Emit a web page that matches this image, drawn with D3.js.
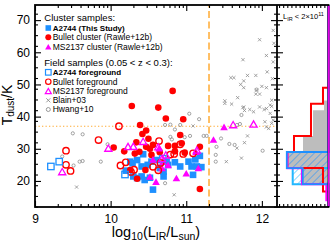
<!DOCTYPE html>
<html>
<head>
<meta charset="utf-8">
<script src="https://cdn.jsdelivr.net/npm/d3@7"></script>
<style>
  html, body { margin: 0; padding: 0; background: #fff; }
  svg { display: block; font-family: "Liberation Sans", Arial, Helvetica, sans-serif; }
</style>
</head>
<body>
<svg id="chart" width="330" height="242"></svg>
<script>
// [log10(L_IR/L_sun), T_dust/K]
const bulletCluster = [
  [10.82, 48.0], [10.28, 43.3], [10.63, 42.8], [10.73, 39.4], [10.96, 39.2], [10.39, 37.4],
  [10.47, 35.7], [10.42, 34.6], [10.50, 33.1], [10.92, 34.3], [10.04, 30.4], [10.18, 29.2],
  [10.34, 32.0], [10.47, 30.6], [10.38, 29.1], [10.56, 31.2], [10.52, 30.0], [10.65, 28.9],
  [10.85, 29.2], [10.94, 31.7], [10.76, 30.9], [11.18, 30.6], [10.32, 28.5], [10.54, 28.1],
  [10.98, 28.8], [10.26, 23.4], [10.46, 23.4], [10.35, 20.7], [11.18, 17.5], [10.85, 30.9]
];
const bulletForeground = [
  [10.11, 37.0], [9.84, 32.7], [9.41, 29.4], [9.41, 25.0], [9.47, 23.1], [10.13, 24.8],
  [10.20, 25.8], [10.31, 23.5], [10.64, 32.4], [10.92, 31.4], [10.84, 28.4], [11.09, 28.6],
  [10.56, 24.4], [10.66, 25.6], [10.79, 28.2], [10.63, 23.3], [10.96, 28.4], [10.27, 22.8]
];
const a2744Cluster = [
  [10.20, 23.2], [10.29, 25.5], [10.35, 20.9], [10.41, 21.4], [10.45, 20.3], [10.56, 17.3],
  [10.70, 21.4], [10.43, 28.3], [10.54, 26.0], [10.65, 24.0], [10.74, 26.0], [10.26, 26.0],
  [10.35, 26.5], [10.49, 25.0], [10.41, 24.5], [10.61, 26.5], [10.70, 22.9], [10.76, 25.0],
  [11.03, 26.0], [11.07, 24.5], [11.12, 26.7], [10.30, 21.4], [11.18, 27.8], [11.14, 24.5],
  [11.20, 24.3], [11.09, 21.9], [10.92, 24.5], [10.52, 21.0], [10.85, 25.8]
];
const a2744Foreground = [[9.21, 24.5], [9.32, 26.0], [10.19, 22.0], [10.69, 26.9]];
const ms2137Cluster = [
  [11.50, 36.8], [11.36, 32.9], [11.13, 29.1], [10.87, 20.9], [11.00, 22.4], [10.64, 30.2],
  [10.56, 26.7], [10.69, 26.0], [10.52, 21.4], [10.60, 19.8], [10.68, 24.0], [10.76, 25.0],
  [11.16, 24.0]
];
const ms2137Foreground = [
  [9.97, 30.2], [9.36, 22.9], [10.23, 30.7], [10.30, 30.8], [10.43, 32.3], [10.63, 30.6],
  [10.73, 28.1], [11.14, 29.6], [11.62, 37.5], [11.89, 37.7], [10.68, 27.0]
];
const blain03 = [
  [9.55, 18.1], [10.84, 15.7], [11.09, 37.1], [11.51, 44.1], [11.60, 43.9], [11.76, 43.0],
  [11.77, 41.9], [11.89, 41.5], [11.97, 43.0], [12.06, 42.5], [12.13, 43.2], [12.04, 38.4],
  [12.09, 36.3], [12.13, 37.9], [11.81, 34.0], [11.77, 31.9], [11.67, 30.2], [11.53, 26.0],
  [11.73, 27.1], [12.15, 66.8], [11.97, 63.9], [12.16, 62.8], [12.06, 59.0], [11.75, 57.7],
  [12.07, 53.9], [11.59, 52.1], [11.63, 52.1], [11.81, 52.8], [11.92, 52.8], [11.76, 51.1],
  [11.72, 50.0], [11.76, 49.0], [12.00, 49.4], [12.06, 49.0], [11.93, 48.2], [11.92, 47.0],
  [11.97, 47.0], [11.68, 45.9], [11.51, 44.9], [11.75, 42.8], [11.84, 42.2], [12.03, 42.2],
  [12.11, 43.6], [12.15, 57.0], [12.13, 45.1], [12.11, 41.0], [12.15, 38.9], [12.14, 51.8],
  [12.06, 36.8]
];
const hwang10 = [
  [9.50, 34.8], [9.63, 34.5], [9.59, 26.0], [9.63, 26.2], [9.87, 26.0], [9.51, 24.8],
  [9.36, 27.6], [9.96, 31.4], [11.04, 40.9], [10.79, 37.5], [10.92, 37.4], [11.05, 34.0],
  [10.72, 19.3], [11.73, 40.5], [11.17, 39.2], [11.71, 37.7], [11.67, 37.4], [11.46, 33.2],
  [11.40, 30.6], [11.39, 28.1], [11.39, 26.0], [11.57, 31.5], [11.64, 31.2], [12.01, 29.4],
  [11.23, 34.0], [11.27, 34.0], [11.93, 48.4], [10.98, 33.6], [10.79, 33.7], [10.85, 36.0],
  [10.72, 37.4], [10.81, 32.9]
];

// histograms of T_dust for L_IR < 2e11 (bin edges in K, bar length as fraction)
const fieldHistEdges = [29, 34, 42, 45];
const fieldHistFrac = [0.495, 0.30, 0.087];
const bulletHistEdges = [16.7, 19, 24, 29, 34, 44, 49];
const bulletHistFrac = [0.107, 0.107, 0.80, 0.67, 0.34, 0.107];
const a2744HistEdges = [19, 24, 29];
const a2744HistFrac = [0.50, 0.81];
const a2744FgHistEdges = [19, 24];
const a2744FgHistFrac = [0.695];
const ms2137HistEdges = [14, 19, 24, 29];
const ms2137HistFrac = [0.04, 0.515, 0.80];

const xTicks = [9, 10, 11, 12];
const yTicks = [20, 30, 40, 50, 60, 70];
const lirCut = Math.log10(2e11);
const tempCut = 37;

const BLUE = "#1e90ff";
const LIGHTBLUE = "#22b8ff";
const RED = "#ff0000";
const MAGENTA = "#ff00ff";
const GRAY = "#8c8c8c";
const ORANGE = "#ffaa33";

const svg = d3.select("#chart");
const x = d3.scaleLinear().domain([9, 12.2]).range([35, 277]);
const y = d3.scaleLinear().domain([11.9, 74.7]).range([207, 5]);
const hx = d3.scaleLinear().domain([0, 1]).range([328.5, 277]);
const [yMin, yMax] = y.domain();

const defs = svg.append("defs");
defs.append("clipPath").attr("id", "clip-main").append("rect")
  .attr("x", x.range()[0]).attr("y", y.range()[1])
  .attr("width", x.range()[1] - x.range()[0]).attr("height", y.range()[0] - y.range()[1]);
defs.append("clipPath").attr("id", "clip-hist").append("rect")
  .attr("x", hx.range()[1]).attr("y", y.range()[1])
  .attr("width", hx.range()[0] - hx.range()[1] + 2).attr("height", y.range()[0] - y.range()[1]);

function hatch(id, color) {
  const p = defs.append("pattern").attr("id", id)
    .attr("patternUnits", "userSpaceOnUse").attr("width", 5).attr("height", 5)
    .attr("patternTransform", "rotate(45)");
  p.append("line").attr("x1", 0).attr("y1", 0).attr("x2", 0).attr("y2", 5)
    .attr("stroke", color).attr("stroke-width", 1.1);
}
hatch("hatch-blue", BLUE);
hatch("hatch-light", LIGHTBLUE);

// ---- main panel ----
const main = svg.append("g").attr("clip-path", "url(#clip-main)");

main.append("line")
  .attr("x1", x(lirCut)).attr("x2", x(lirCut)).attr("y1", y(yMin)).attr("y2", y(yMax))
  .attr("stroke", ORANGE).attr("stroke-width", 1.5).attr("stroke-dasharray", "7,3.5");
main.append("line")
  .attr("x1", x(9)).attr("x2", x(12.2)).attr("y1", y(tempCut)).attr("y2", y(tempCut))
  .attr("stroke", ORANGE).attr("stroke-width", 1.2).attr("stroke-dasharray", "1.3,2.2");

const crossPath = (r) => `M${-r},${-r}L${r},${r}M${-r},${r}L${r},${-r}`;
const triPath = (s) => {
  const h = s * Math.sqrt(3) / 2;
  return `M0,${-h / 2}L${s / 2},${h / 2}L${-s / 2},${h / 2}Z`;
};

main.selectAll("circle.hwang").data(hwang10).join("circle")
  .attr("class", "hwang")
  .attr("cx", (d) => x(d[0])).attr("cy", (d) => y(d[1])).attr("r", 1.6)
  .attr("fill", "none").attr("stroke", GRAY).attr("stroke-width", 0.8);
main.selectAll("path.blain").data(blain03).join("path")
  .attr("class", "blain")
  .attr("transform", (d) => `translate(${x(d[0])},${y(d[1])})`)
  .attr("d", crossPath(1.6)).attr("stroke", GRAY).attr("stroke-width", 0.8);

main.selectAll("rect.a2744").data(a2744Cluster).join("rect")
  .attr("class", "a2744")
  .attr("x", (d) => x(d[0]) - 3.3).attr("y", (d) => y(d[1]) - 3.3)
  .attr("width", 6.6).attr("height", 6.6).attr("fill", BLUE);
main.selectAll("circle.bullet").data(bulletCluster).join("circle")
  .attr("class", "bullet")
  .attr("cx", (d) => x(d[0])).attr("cy", (d) => y(d[1])).attr("r", 3.3).attr("fill", RED);
main.selectAll("path.ms2137").data(ms2137Cluster).join("path")
  .attr("class", "ms2137")
  .attr("transform", (d) => `translate(${x(d[0])},${y(d[1])})`)
  .attr("d", triPath(7.6)).attr("fill", MAGENTA);

main.selectAll("circle.bulletfg").data(bulletForeground).join("circle")
  .attr("class", "bulletfg")
  .attr("cx", (d) => x(d[0])).attr("cy", (d) => y(d[1])).attr("r", 3.2)
  .attr("fill", "none").attr("stroke", RED).attr("stroke-width", 1.4);
main.selectAll("rect.a2744fg").data(a2744Foreground).join("rect")
  .attr("class", "a2744fg")
  .attr("x", (d) => x(d[0]) - 3.2).attr("y", (d) => y(d[1]) - 3.2)
  .attr("width", 6.4).attr("height", 6.4)
  .attr("fill", "none").attr("stroke", BLUE).attr("stroke-width", 1.3);
main.selectAll("path.ms2137fg").data(ms2137Foreground).join("path")
  .attr("class", "ms2137fg")
  .attr("transform", (d) => `translate(${x(d[0])},${y(d[1])})`)
  .attr("d", triPath(7.2)).attr("fill", "none").attr("stroke", MAGENTA).attr("stroke-width", 1.3);

// ---- histogram panel ----
const histG = svg.append("g").attr("clip-path", "url(#clip-hist)");

function stepPoints(edges, vals) {
  const pts = [];
  for (let i = vals.length - 1; i >= 0; i--) {
    pts.push([hx(i === vals.length - 1 ? 0 : vals[i + 1]), y(edges[i + 1])]);
    pts.push([hx(vals[i]), y(edges[i + 1])]);
    pts.push([hx(vals[i]), y(edges[i])]);
  }
  pts.push([hx(0), y(edges[0])]);
  return pts;
}
function stepOutline(edges, vals) {
  return [[hx(0), y(yMax)], ...stepPoints(edges, vals), [hx(0), y(yMin)]];
}
const line = d3.line();

histG.append("path").datum(stepPoints(fieldHistEdges, fieldHistFrac))
  .attr("d", (d) => line(d) + "Z").attr("fill", "#bdbdbd");
histG.append("path").datum(stepPoints(a2744FgHistEdges, a2744FgHistFrac))
  .attr("d", (d) => line(d) + "Z").attr("fill", "url(#hatch-light)");
histG.append("path").datum(stepPoints(a2744HistEdges, a2744HistFrac))
  .attr("d", (d) => line(d) + "Z").attr("fill", "#bdbdbd");
histG.append("path").datum(stepPoints(a2744HistEdges, a2744HistFrac))
  .attr("d", (d) => line(d) + "Z").attr("fill", "url(#hatch-blue)");

const outlines = [
  [a2744FgHistEdges, a2744FgHistFrac, LIGHTBLUE, 2],
  [bulletHistEdges, bulletHistFrac, RED, 2],
  [ms2137HistEdges, ms2137HistFrac, MAGENTA, 2.2],
  [a2744HistEdges, a2744HistFrac, BLUE, 1.8]
];
outlines.forEach(([edges, vals, color, w]) => {
  histG.append("path").datum(stepOutline(edges, vals))
    .attr("d", line).attr("fill", "none").attr("stroke", color).attr("stroke-width", w);
});

// ---- axes ----
const minorX = [];
for (let n = 9; n <= 12; n++) {
  for (let k = 2; k <= 9; k++) {
    const v = n + Math.log10(k);
    if (v < 12.2) minorX.push(v);
  }
}
const minorY = d3.range(12, 75, 10 / 3).map((v) => +v.toFixed(2)).filter((v) => v > yMin && v < yMax);
const histTicks = d3.range(0.08, 1, 0.08);

function tidy(g) {
  g.select(".domain").remove();
  g.selectAll(".tick line").attr("stroke", "#000").attr("stroke-width", 1.1);
  g.selectAll(".tick text").attr("font-size", 12).attr("fill", "#000");
  return g;
}
const none = () => "";

svg.append("g").attr("transform", "translate(0,207)")
  .call(d3.axisBottom(x).tickValues(minorX).tickSize(-3).tickFormat(none)).call(tidy);
svg.append("g").attr("transform", "translate(0,207)")
  .call(d3.axisBottom(x).tickValues(xTicks).tickSize(-6).tickPadding(7).tickFormat(d3.format("d"))).call(tidy);
svg.append("g").attr("transform", "translate(0,5)")
  .call(d3.axisTop(x).tickValues(minorX).tickSize(-3).tickFormat(none)).call(tidy);
svg.append("g").attr("transform", "translate(0,5)")
  .call(d3.axisTop(x).tickValues(xTicks).tickSize(-6).tickFormat(none)).call(tidy);

svg.append("g").attr("transform", "translate(35,0)")
  .call(d3.axisLeft(y).tickValues(minorY).tickSize(-3).tickFormat(none)).call(tidy);
svg.append("g").attr("transform", "translate(35,0)")
  .call(d3.axisLeft(y).tickValues(yTicks).tickSize(-6).tickPadding(5).tickFormat(d3.format("d"))).call(tidy);
svg.append("g").attr("transform", "translate(277,0)")
  .call(d3.axisRight(y).tickValues(minorY).tickSize(-3).tickFormat(none)).call(tidy);
svg.append("g").attr("transform", "translate(277,0)")
  .call(d3.axisRight(y).tickValues(yTicks).tickSize(-6).tickFormat(none)).call(tidy);
svg.append("g").attr("transform", "translate(277,0)")
  .call(d3.axisLeft(y).tickValues(minorY).tickSize(-3).tickFormat(none)).call(tidy);
svg.append("g").attr("transform", "translate(277,0)")
  .call(d3.axisLeft(y).tickValues(yTicks).tickSize(-6).tickFormat(none)).call(tidy);
svg.append("g").attr("transform", "translate(0,207)")
  .call(d3.axisBottom(hx).tickValues(histTicks).tickSize(-3).tickFormat(none)).call(tidy);
svg.append("g").attr("transform", "translate(0,5)")
  .call(d3.axisTop(hx).tickValues(histTicks).tickSize(-3).tickFormat(none)).call(tidy);

svg.append("rect")
  .attr("x", x(9)).attr("y", y(yMax)).attr("width", hx(0) - x(9)).attr("height", y(yMin) - y(yMax))
  .attr("fill", "none").attr("stroke", "#000").attr("stroke-width", 1.8);
svg.append("line")
  .attr("x1", 277).attr("x2", 277).attr("y1", y(yMax)).attr("y2", y(yMin))
  .attr("stroke", "#000").attr("stroke-width", 1.8);
svg.append("line")
  .attr("x1", hx(0) + 0.3).attr("x2", hx(0) + 0.3).attr("y1", y(yMax) + 1).attr("y2", y(yMin) - 1)
  .attr("stroke", MAGENTA).attr("stroke-width", 1.4);

// axis titles
const xt = svg.append("text").attr("x", 156).attr("y", 237)
  .attr("text-anchor", "middle").attr("font-size", 14.5);
xt.append("tspan").text("log");
xt.append("tspan").attr("font-size", 10.5).attr("dy", 3).text("10");
xt.append("tspan").attr("dy", -3).text("(L");
xt.append("tspan").attr("font-size", 10.5).attr("dy", 3).text("IR");
xt.append("tspan").attr("dy", -3).text("/L");
xt.append("tspan").attr("font-size", 10.5).attr("dy", 3).text("sun");
xt.append("tspan").attr("dy", -3).text(")");

const yt = svg.append("text").attr("transform", "translate(12,105) rotate(-90)")
  .attr("text-anchor", "middle").attr("font-size", 14);
yt.append("tspan").text("T");
yt.append("tspan").attr("font-size", 10).attr("dy", 2).text("dust");
yt.append("tspan").attr("dy", -2).text("/K");

// histogram label
const hl = svg.append("text").attr("x", 283).attr("y", 19).attr("font-size", 7.5);
hl.append("tspan").text("L");
hl.append("tspan").attr("font-size", 5.5).attr("dy", 1.5).text("IR");
hl.append("tspan").attr("dy", -1.5).text(" < 2×10");
hl.append("tspan").attr("font-size", 5.5).attr("dy", -3).text("11");

// ---- legend ----
const legendRows = [
  { y: 17.5, label: "Cluster samples:", head: true },
  { y: 28, label: "A2744 (This Study)", bold: true, mark: "sq", color: BLUE, fill: true },
  { y: 37.3, label: "Bullet cluster (Rawle+12b)", mark: "ci", color: RED, fill: true },
  { y: 46.7, label: "MS2137 cluster (Rawle+12b)", mark: "tr", color: MAGENTA, fill: true },
  { y: 62.3, label: "Field samples (0.05 < z < 0.3):", head: true },
  { y: 72.3, label: "A2744 foreground", bold: true, mark: "sq", color: BLUE },
  { y: 81.7, label: "Bullet foreground", mark: "ci", color: RED },
  { y: 91, label: "MS2137 foreground", mark: "tr", color: MAGENTA },
  { y: 100.3, label: "Blain+03", mark: "x", color: GRAY },
  { y: 109.5, label: "Hwang+10", mark: "o", color: GRAY }
];
const leg = svg.append("g");
legendRows.forEach((r) => {
  if (r.head) {
    leg.append("text").attr("x", 44.3).attr("y", r.y).attr("dy", "0.35em")
      .attr("font-size", 9.5).text(r.label);
    return;
  }
  const mx = 48.3;
  const g = leg.append("g").attr("transform", `translate(${mx},${r.y})`);
  if (r.mark === "sq") {
    g.append("rect").attr("x", -2.8).attr("y", -2.8).attr("width", 5.6).attr("height", 5.6)
      .attr("fill", r.fill ? r.color : "none").attr("stroke", r.fill ? "none" : r.color).attr("stroke-width", 1.2);
  } else if (r.mark === "ci") {
    g.append("circle").attr("r", r.fill ? 3 : 2.7)
      .attr("fill", r.fill ? r.color : "none").attr("stroke", r.fill ? "none" : r.color).attr("stroke-width", 1.2);
  } else if (r.mark === "tr") {
    g.append("path").attr("d", triPath(r.fill ? 6.4 : 6))
      .attr("fill", r.fill ? r.color : "none").attr("stroke", r.fill ? "none" : r.color).attr("stroke-width", 1.2);
  } else if (r.mark === "x") {
    g.append("path").attr("d", crossPath(2)).attr("stroke", r.color).attr("stroke-width", 0.9);
  } else {
    g.append("circle").attr("r", 2).attr("fill", "none").attr("stroke", r.color).attr("stroke-width", 0.9);
  }
  leg.append("text").attr("x", 52.7).attr("y", r.y).attr("dy", "0.35em")
    .attr("font-size", r.bold ? 8 : 8.5).attr("font-weight", r.bold ? "bold" : null).text(r.label);
});
</script>
</body>
</html>
